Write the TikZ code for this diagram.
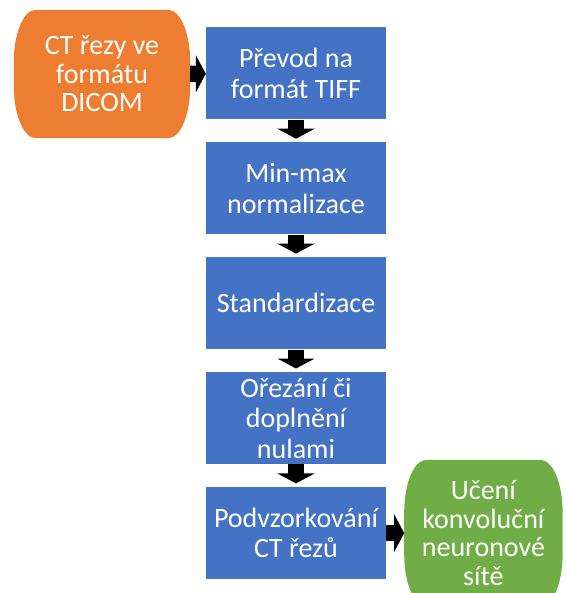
\documentclass[tikz,border=0pt]{standalone}
\usepackage{fontspec}
\setmainfont{Carlito}
\usetikzlibrary{arrows.meta, positioning, calc, backgrounds}
\definecolor{stepblue}{RGB}{68,114,196}
\definecolor{startorange}{RGB}{237,125,49}
\definecolor{endgreen}{RGB}{112,173,71}

\tikzset{
    stepbox/.style={rectangle, fill=stepblue, text=white, minimum width=180pt, minimum height=92pt,
        inner sep=0pt, align=center, font=\fontsize{28}{30.5}\selectfont},
    capsule/.style={rectangle, text=white, inner sep=0pt, align=center, font=\fontsize{28}{28.5}\selectfont},
    blockarrow/.style={line width=16.5pt, -{Triangle[length=10pt, width=37pt]}},
}

% rounded-side shape behind a node: #1 node, #2 colour
\newcommand{\capsuleshape}[2]{%
    \fill[#2] ($(#1.north west)+(\crx,0)$) -- ($(#1.north east)+(-\crx,0)$)
        arc[start angle=90, end angle=0, x radius=\crx, y radius=\cry]
        -- ($(#1.south east)+(0,\cry)$)
        arc[start angle=0, end angle=-90, x radius=\crx, y radius=\cry]
        -- ($(#1.south west)+(\crx,0)$)
        arc[start angle=270, end angle=180, x radius=\crx, y radius=\cry]
        -- ($(#1.north west)+(0,-\cry)$)
        arc[start angle=180, end angle=90, x radius=\crx, y radius=\cry]
        -- cycle;}

\begin{document}
\begin{tikzpicture}[x=1pt, y=1pt]
    % Define dimensions
    \def\crx{22}
    \def\cry{52}
    \def\gap{22.5pt}

    \useasboundingbox (0,0) rectangle (566,-593);

    % Input slices
    \node[capsule, minimum width=176pt, minimum height=128pt] (dicom) at (102,-74) {CT řezy ve\\formátu\\DICOM};

    % Preprocessing steps
    \node[stepbox] (tiff) at (296,-73.5) {Převod na\\formát TIFF};
    \node[stepbox, below=\gap of tiff] (minmax) {Min-max\\normalizace};
    \node[stepbox, below=\gap of minmax] (std) {Standardizace};
    \node[stepbox, below=\gap of std] (crop) {Ořezání či\\doplnění\\nulami};
    \node[stepbox, below=\gap of crop] (subsample) {Podvzorkování\\CT řezů};

    % Training
    \node[capsule, minimum width=158pt, minimum height=146pt, right=18pt of subsample] (cnn) {Učení\\konvoluční\\neuronové\\sítě};

    % Shapes behind the two end nodes
    \begin{scope}[on background layer]
        \capsuleshape{dicom}{startorange}
        \capsuleshape{cnn}{endgreen}
    \end{scope}

    % Block arrows
    \draw[blockarrow] (dicom) -- (tiff);
    \foreach \a/\b in {tiff/minmax, minmax/std, std/crop, crop/subsample} {
        \draw[blockarrow, shorten >=3.5pt] (\a) -- (\b);
    }
    \draw[blockarrow] (subsample) -- (cnn);
\end{tikzpicture}
\end{document}
